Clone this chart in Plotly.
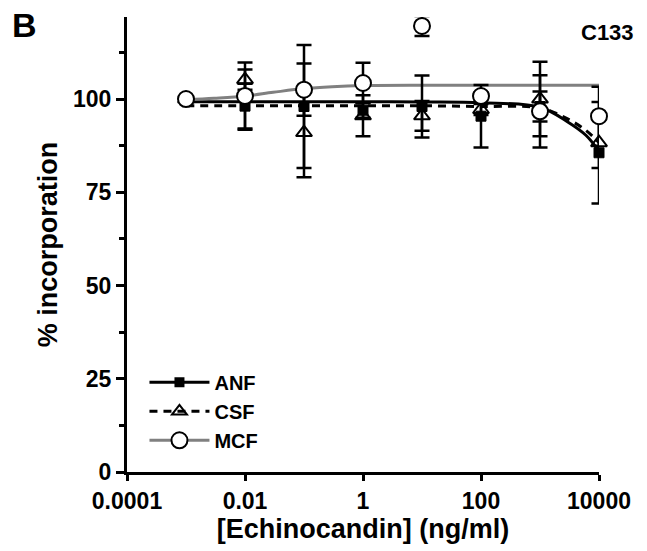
import plotly.graph_objects as go

# ---- data ----
conc = [0.001, 0.01, 0.1, 1, 10, 100, 1000, 10000]

anf_y = [100, 98.1, 98.0, 97.0, 98.0, 95.4, 98.0, 85.6]
anf_err = [None, 6.0, 16.5, 2.0, 8.3, 8.4, 4.0, 13.6]

csf_y = [100, 105.2, 91.0, 95.5, 95.5, 97.2, 100.0, 88.3]
csf_err = [None, 2.7, 12.0, 5.5, 4.0, 1.5, 10.0, 6.8]

mcf_y = [100, 100.8, 102.5, 104.3, 119.6, 100.8, 96.7, 95.4]
mcf_err = [None, 9.0, 7.0, 5.4, 2.7, 1.0, 9.7, 7.9]

# fitted curves, read at several concentrations
fit_x = [0.001, 0.01, 0.1, 1, 10, 100, 1000, 3000, 6000, 10000]
anf_fit = [99.3, 99.3, 99.3, 99.3, 99.2, 99.0, 97.8, 93.8, 90.3, 86.0]
csf_fit = [98.2, 98.2, 98.2, 98.2, 98.2, 98.0, 97.6, 94.6, 91.6, 88.3]

mcf_fit_x = [0.001, 0.003, 0.01, 0.03, 0.1, 0.3, 1, 10, 100, 1000, 10000]
mcf_fit = [99.8, 100.2, 100.8, 101.8, 102.8, 103.3, 103.6, 103.7, 103.7, 103.7, 103.7]

names = ["ANF", "CSF", "MCF"]
y_ticks = [0, 25, 50, 75, 100]
y_minor = [12.5, 37.5, 62.5, 87.5, 112.5]
x_ticks = [0.0001, 0.01, 1, 100, 10000]
x_ticklabels = ["0.0001", "0.01", "1", "100", "10000"]

FONT = "Arial, Liberation Sans, Helvetica, sans-serif"
GRAY = "#808080"

fig = go.Figure()

err_style = dict(type="data", visible=True, color="black", thickness=2.5, width=7.5)

# fitted lines
fig.add_trace(go.Scatter(x=fit_x, y=anf_fit, mode="lines", line=dict(color="black", width=3, shape="spline"),
                         showlegend=False, hoverinfo="skip"))
fig.add_trace(go.Scatter(x=fit_x, y=csf_fit, mode="lines",
                         line=dict(color="black", width=3, dash="8px,6px", shape="spline"),
                         showlegend=False, hoverinfo="skip"))
fig.add_trace(go.Scatter(x=mcf_fit_x, y=mcf_fit, mode="lines", line=dict(color=GRAY, width=3, shape="spline"),
                         showlegend=False, hoverinfo="skip"))

# data points with error bars
fig.add_trace(go.Scatter(x=conc, y=anf_y, mode="markers",
                         marker=dict(symbol="square", size=10, color="black", line=dict(color="black", width=1)),
                         error_y=dict(array=anf_err, **err_style), showlegend=False, cliponaxis=False))
fig.add_trace(go.Scatter(x=conc, y=csf_y, mode="markers",
                         marker=dict(symbol="triangle-up-open", size=14, color="black", line=dict(color="black", width=2)),
                         error_y=dict(array=csf_err, **err_style), showlegend=False, cliponaxis=False))
fig.add_trace(go.Scatter(x=conc, y=mcf_y, mode="markers",
                         marker=dict(symbol="circle", size=16, color="white", line=dict(color="black", width=2)),
                         error_y=dict(array=mcf_err, **err_style), showlegend=False, cliponaxis=False))

# legend entries
fig.add_trace(go.Scatter(x=[None], y=[None], mode="lines+markers", name=names[0],
                         line=dict(color="black", width=3),
                         marker=dict(symbol="square", size=10, color="black")))
fig.add_trace(go.Scatter(x=[None], y=[None], mode="lines+markers", name=names[1],
                         line=dict(color="black", width=3, dash="8px,6px"),
                         marker=dict(symbol="triangle-up-open", size=13, color="black", line=dict(color="black", width=2))))
fig.add_trace(go.Scatter(x=[None], y=[None], mode="lines+markers", name=names[2],
                         line=dict(color=GRAY, width=3),
                         marker=dict(symbol="circle", size=16, color="white", line=dict(color="black", width=2))))

fig.update_layout(
    width=647, height=551,
    margin=dict(l=127, r=48, t=17, b=79),
    plot_bgcolor="white", paper_bgcolor="white",
    font=dict(family=FONT, color="black"),
    legend=dict(x=0.037, y=0.24, xanchor="left", yanchor="top",
                font=dict(family=FONT, size=20, weight="bold", color="black"),
                bgcolor="rgba(0,0,0,0)", itemwidth=60, tracegroupgap=0),
    annotations=[
        dict(text="B", x=0, y=1, xref="paper", yref="paper", xshift=-117, yshift=13,
             xanchor="left", yanchor="top", showarrow=False,
             font=dict(family=FONT, size=34, weight="bold", color="black")),
        dict(text="C133", x=1, y=1, xref="paper", yref="paper", xshift=37, yshift=-1,
             xanchor="right", yanchor="top", showarrow=False,
             font=dict(family=FONT, size=22, weight="bold", color="black")),
    ],
)

fig.update_xaxes(
    type="log", range=[-4, 4],
    tickvals=x_ticks, ticktext=x_ticklabels,
    showline=True, linecolor="black", linewidth=3,
    ticks="outside", ticklen=6, tickwidth=3, tickcolor="black",
    tickfont=dict(family=FONT, size=23, weight="bold", color="black"),
    showgrid=False, zeroline=False,
    title=dict(text="[Echinocandin] (ng/ml)", standoff=6,
               font=dict(family=FONT, size=27, weight="bold", color="black")),
)
fig.update_yaxes(
    range=[0, 122],
    tickmode="array", tickvals=y_ticks,
    showline=True, linecolor="black", linewidth=3,
    ticks="outside", ticklen=8, tickwidth=3, tickcolor="black",
    minor=dict(tickmode="array", tickvals=y_minor, ticks="outside", ticklen=5, tickwidth=3, tickcolor="black"),
    tickfont=dict(family=FONT, size=23, weight="bold", color="black"),
    showgrid=False, zeroline=False,
    title=dict(text="% incorporation", standoff=8,
               font=dict(family=FONT, size=27, weight="bold", color="black")),
)

fig.write_html("out.html", config={"displayModeBar": False},
               post_script="document.body.style.margin='0';")
